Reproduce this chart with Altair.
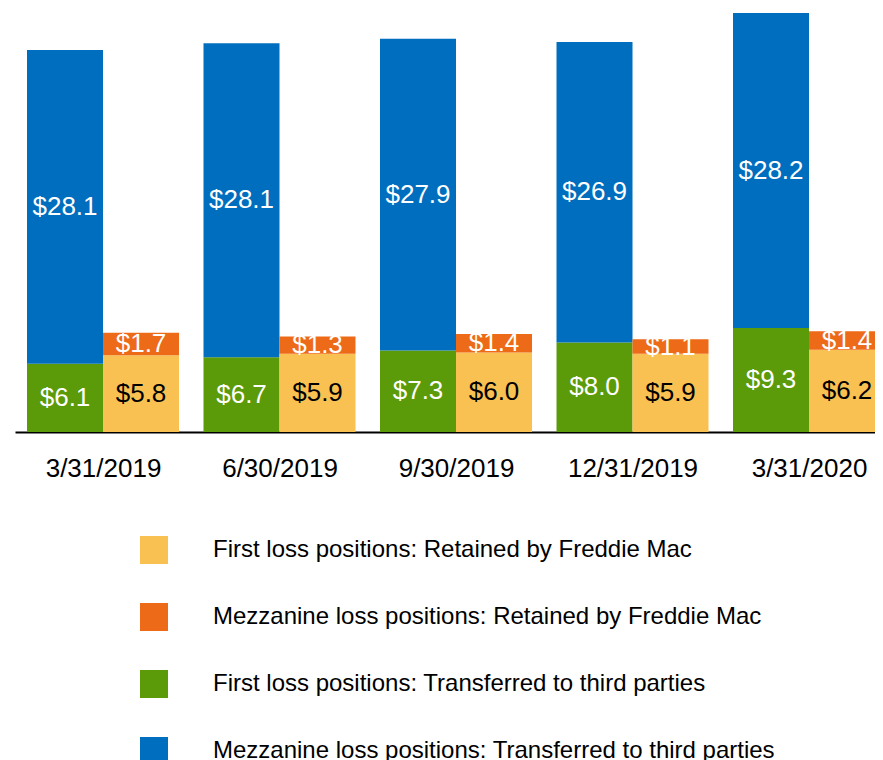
import altair as alt
import pandas as pd

dates = ["3/31/2019", "6/30/2019", "9/30/2019", "12/31/2019", "3/31/2020"]
first_retained = [5.8, 5.9, 6.0, 5.9, 6.2]
mezz_retained = [1.7, 1.3, 1.4, 1.1, 1.4]
first_transferred = [6.1, 6.7, 7.3, 8.0, 9.3]
mezz_transferred = [28.1, 28.1, 27.9, 26.9, 28.2]

series = [
    "First loss positions: Retained by Freddie Mac",
    "Mezzanine loss positions: Retained by Freddie Mac",
    "First loss positions: Transferred to third parties",
    "Mezzanine loss positions: Transferred to third parties",
]
colors = ["#F9C152", "#EC6A18", "#5B9A08", "#006EBE"]
label_colors = ["black", "white", "white", "white"]

rows = []
for i, d in enumerate(dates):
    for s, vals, side, rank, lc in [
        (series[2], first_transferred, -1, 0, label_colors[2]),
        (series[3], mezz_transferred, -1, 1, label_colors[3]),
        (series[0], first_retained, 0, 0, label_colors[0]),
        (series[1], mezz_retained, 0, 1, label_colors[1]),
    ]:
        rows.append({"gi": i, "date": d, "series": s, "value": vals[i], "side": side,
                     "rank": rank, "lc": lc, "label": f"${vals[i]:.1f}"})
df = pd.DataFrame(rows)

FONT = "Liberation Sans"
BW = 0.4306  # bar width in group units

xscale = alt.Scale(domain=[-0.4986, 4.3739], nice=False, zero=False)
label_expr = "[" + ",".join(f"'{d}'" for d in dates) + "][datum.value]"
xaxis = alt.Axis(values=list(range(len(dates))), labelExpr=label_expr, labelAngle=0,
                 labelFontSize=26, labelColor="black", labelFont=FONT, ticks=False,
                 domainColor="black", domainWidth=2, labelPadding=23, grid=False,
                 title=None, labelFlush=False, labelOverlap=False)

legend = alt.Legend(title=None, orient="none", legendX=125, legendY=528,
                    direction="vertical", symbolType="square",
                    symbolSize=784, symbolStrokeWidth=0, labelFont=FONT,
                    labelFontSize=24, labelColor="black", labelOffset=45,
                    rowPadding=39, labelLimit=800)
color_scale = alt.Scale(domain=series, range=colors)

base = alt.Chart(df).transform_stack(
    stack="value", as_=["y0", "y1"], groupby=["gi", "side"],
    sort=[alt.SortField("rank", order="ascending")]
).transform_calculate(
    mid="(datum.y0 + datum.y1) / 2",
    xa=f"datum.gi + datum.side * {BW}",
    xb=f"datum.gi + datum.side * {BW} + {BW}",
    xc=f"datum.gi + datum.side * {BW} + {BW} / 2",
)


def side_layers(side, ymax):
    ys = alt.Scale(domain=[0, ymax], nice=False, zero=True)
    b = base.transform_filter(f"datum.side == {side}")
    bars = b.mark_bar(clip=True).encode(
        x=alt.X("xa:Q", scale=xscale, axis=xaxis),
        x2="xb:Q",
        y=alt.Y("y0:Q", scale=ys, axis=None),
        y2="y1:Q",
        color=alt.Color("series:N", scale=color_scale, legend=legend),
    )
    texts = b.mark_text(fontSize=26, font=FONT, baseline="middle", clip=True).encode(
        x=alt.X("xc:Q", scale=xscale, axis=xaxis),
        y=alt.Y("mid:Q", scale=ys, axis=None),
        text="label:N",
        color=alt.Color("lc:N", scale=None, legend=None),
    )
    return alt.layer(bars, texts)


transferred = side_layers(-1, 37.95)
retained = side_layers(0, 32.0)

chart = alt.layer(transferred, retained).resolve_scale(y="independent").properties(
    width=860, height=424,
    padding={"left": 7, "top": 0, "right": 0, "bottom": 0},
).configure_view(stroke=None)

chart.save("out.html", embed_options={"renderer": "svg", "actions": False})
